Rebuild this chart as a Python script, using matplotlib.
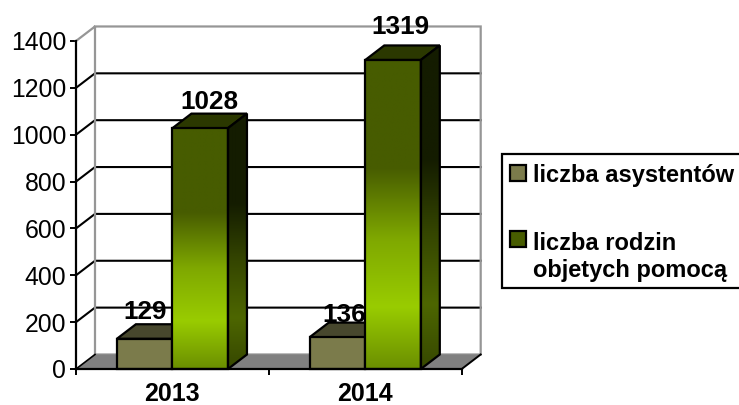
import numpy as np
import matplotlib
matplotlib.use("Agg")
import matplotlib.pyplot as plt
from matplotlib.colors import LinearSegmentedColormap
from matplotlib.legend_handler import HandlerPatch
from matplotlib.patches import Polygon, Patch, Rectangle

plt.rcParams['font.family'] = ['Liberation Sans', 'DejaVu Sans']

categories = ['2013', '2014']
series_names = ['liczba asystentów', 'liczba rodzin\nobjetych pomocą']
asystenci = [129, 136]
rodziny = [1028, 1319]
y_ticks = [0, 200, 400, 600, 800, 1000, 1200, 1400]

DX, DY = 0.0985, 62
BAR_W = 0.288

GREEN_FRONT = LinearSegmentedColormap.from_list('gf', [(0, '#6b8f00'), (.2, '#99cc00'), (.42, '#7fa800'), (.65, '#475c00'), (1, '#475c00')])
GREEN_SIDE = LinearSegmentedColormap.from_list('gs', [(0, '#364700'), (.2, '#4d6600'), (.42, '#354600'), (.65, '#141c00'), (1, '#141c00')])

fig = plt.figure(figsize=(7.39, 4.05), dpi=100, facecolor='white')
ax = fig.add_axes([76 / 739, 1 - 369 / 405, (461.7 - 76) / 739, (369 - 41) / 405])
ax.set_xlim(0, 2)
ax.set_ylim(0, 1400)


def grad_poly(pts, cmap, ymax, z):
    poly = Polygon(pts, closed=True, fc='none', ec='black', lw=1.6, zorder=z + .1, clip_on=False, joinstyle='miter')
    ax.add_patch(poly)
    xs = [p[0] for p in pts]
    grad = np.linspace(1, 0, 256).reshape(-1, 1)
    im = ax.imshow(grad, cmap=cmap, vmin=0, vmax=1, aspect='auto', zorder=z,
                   extent=[min(xs), max(xs), 0, ymax], interpolation='bilinear')
    clip = Polygon(pts, closed=True, transform=ax.transData)
    im.set_clip_path(clip)
    return poly


def bar3d(x0, v, front, side, top, z):
    x1 = x0 + BAR_W
    ax.add_patch(Polygon([(x0, v), (x1, v), (x1 + DX, v + DY), (x0 + DX, v + DY)], closed=True,
                         fc=top, ec='black', lw=1.6, zorder=z, clip_on=False, joinstyle='miter'))
    if isinstance(side, str):
        ax.add_patch(Polygon([(x1, 0), (x1 + DX, DY), (x1 + DX, v + DY), (x1, v)], closed=True,
                             fc=side, ec='black', lw=1.6, zorder=z, clip_on=False))
    else:
        grad_poly([(x1, 0), (x1 + DX, DY), (x1 + DX, v + DY), (x1, v)], side, v + DY, z)
    if isinstance(front, str):
        ax.add_patch(Polygon([(x0, 0), (x1, 0), (x1, v), (x0, v)], closed=True,
                             fc=front, ec='black', lw=1.6, zorder=z, clip_on=False))
    else:
        grad_poly([(x0, 0), (x1, 0), (x1, v), (x0, v)], front, v, z)


# walls and floor
for v in y_ticks[1:-1]:
    ax.plot([0, DX, 2 + DX], [v, v + DY, v + DY], color='black', lw=1.5, zorder=2, clip_on=False, solid_joinstyle='miter')
ax.plot([0, DX, DX, 2 + DX, 2 + DX, DX], [1400, 1400 + DY, DY, DY, 1400 + DY, 1400 + DY],
        color='#969696', lw=1.6, zorder=2, clip_on=False, solid_joinstyle='miter')
ax.add_patch(Polygon([(0, 0), (2, 0), (2 + DX, DY), (DX, DY)], closed=True, fc='#808080', ec='none', zorder=2.1, clip_on=False))
ax.plot([0, DX], [0, DY], color='black', lw=1.2, zorder=2.2, clip_on=False)
ax.plot([2, 2 + DX], [0, DY], color='black', lw=1.4, zorder=2.2, clip_on=False)

# bars
for i, (a, r) in enumerate(zip(asystenci, rodziny)):
    bar3d(i + .5 - BAR_W, a, '#7b7b4b', '#3c3c26', '#47472d', 3)
    bar3d(i + .5, r, GREEN_FRONT, GREEN_SIDE, '#2b3800', 5)

ax.set_xlim(0, 2)
ax.set_ylim(0, 1400)

# value labels: (bar x reference, value, pixel offset)
label_offsets = {0: [(0, 29), (9, 29)], 1: [(6.5, 25), (7, 35)]}
for i, (a, r) in enumerate(zip(asystenci, rodziny)):
    for j, (v, x0) in enumerate([(a, i + .5 - BAR_W / 2), (r, i + .5 + BAR_W / 2)]):
        ox, oy = label_offsets[i][j]
        ax.annotate(str(v), xy=(x0, v), xytext=(ox * .72, oy * .72), textcoords='offset points',
                    ha='center', va='center_baseline', fontsize=18.8, fontweight='bold', color='black',
                    zorder=4, annotation_clip=False)

for s in ('top', 'right'):
    ax.spines[s].set_visible(False)
for s in ('left', 'bottom'):
    ax.spines[s].set_linewidth(1.6)
    ax.spines[s].set_zorder(6)
ax.set_yticks(y_ticks)
ax.tick_params(axis='y', length=4, width=1.4, labelsize=17.8, pad=3)
ax.set_xticks([0, 1, 2])
ax.set_xticklabels([])
ax.set_xticks([.5, 1.5], minor=True)
ax.set_xticklabels(categories, minor=True, fontsize=18, fontweight='bold')
ax.tick_params(axis='x', which='major', length=4.5, width=1.4)
ax.tick_params(axis='x', which='minor', length=0, pad=9.2)


class ShiftedHandler(HandlerPatch):
    def __init__(self, y_frac):
        super().__init__()
        self.y_frac = y_frac

    def create_artists(self, legend, orig_handle, xdescent, ydescent, width, height, fontsize, trans):
        r = Rectangle((0, self.y_frac * fontsize), width, height)
        self.update_prop(r, orig_handle, legend)
        r.set_transform(trans)
        return [r]


handles = [Patch(fc='#7b7b4b', ec='black', lw=1.6), Patch(fc='#475c00', ec='black', lw=1.6)]
leg = fig.legend(handles, series_names, loc='upper left', bbox_to_anchor=(502 / 739, 1 - 154 / 405),
                 bbox_transform=fig.transFigure, fancybox=False, edgecolor='black', framealpha=1,
                 prop={'size': 17, 'weight': 'bold'}, handlelength=.68, handleheight=.68, handletextpad=.3,
                 labelspacing=1.9, borderpad=.34, borderaxespad=0,
                 handler_map={handles[0]: ShiftedHandler(-.04), handles[1]: ShiftedHandler(.69)})
leg.get_frame().set_linewidth(1.6)
for t in leg.get_texts():
    t.set_y(-2.16)

fig.savefig('out.png', dpi=100)
